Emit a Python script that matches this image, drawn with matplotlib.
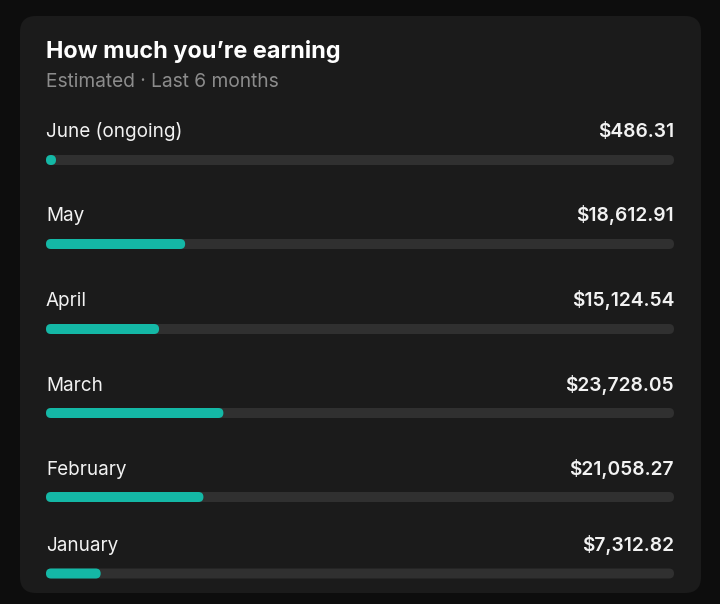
import matplotlib
matplotlib.use("Agg")
import matplotlib.pyplot as plt
from matplotlib.patches import FancyBboxPatch

# ---- data ----
months = ["June (ongoing)", "May", "April", "March", "February", "January"]
earnings = [486.31, 18612.91, 15124.54, 23728.05, 21058.27, 7312.82]
value_labels = ["$486.31", "$18,612.91", "$15,124.54", "$23,728.05", "$21,058.27", "$7,312.82"]
title = "How much you\u2019re earning"
subtitle = "Estimated \u00b7 Last 6 months"
scale_max = 84000  # value that fills the whole track

# ---- layout (pixels) ----
W, H = 720, 604
bar_centers = [160, 244, 329, 413, 497, 573.5]
label_baselines = [137, 221, 306, 391, 475, 551]
bar_h = 10
track_x0, track_x1 = 46, 674

BG = "#0d0d0d"
CARD = "#1b1b1b"
TRACK = "#303030"
TEAL = "#14b8a6"
WHITE = "#f2f2f2"
GREY = "#8c8c8c"
FONT = ["Inter", "DejaVu Sans"]

fig = plt.figure(figsize=(W / 100, H / 100), dpi=100, facecolor=BG)

# background axes in pixel coordinates
bg = fig.add_axes([0, 0, 1, 1])
bg.set_xlim(0, W)
bg.set_ylim(H, 0)
bg.axis("off")
bg.add_patch(FancyBboxPatch((20, 16), 681, 577, boxstyle="round,pad=0,rounding_size=16",
                            facecolor=CARD, edgecolor="none"))

bg.text(46, 58, title, fontsize=16.9, fontweight="bold", color="white",
        family=FONT, va="baseline", ha="left")
bg.text(46, 87, subtitle, fontsize=13.8, color=GREY, family=FONT,
        va="baseline", ha="left")

for m, vl, yb in zip(months, value_labels, label_baselines):
    bg.text(46, yb, m, fontsize=13.6, color=WHITE, family=FONT,
            va="baseline", ha="left")
    bg.text(674, yb, vl, fontsize=13.8, fontweight="semibold", color=WHITE,
            family=FONT, va="baseline", ha="right")

# bar axes: x in dollars, y in pixels
bx = fig.add_axes([track_x0 / W, 0, (track_x1 - track_x0) / W, 1])
bx.set_xlim(0, scale_max)
bx.set_ylim(H, 0)
bx.axis("off")
bx.patch.set_alpha(0)
dpp = scale_max / (track_x1 - track_x0)  # dollars per pixel

for v, yc in zip(earnings, bar_centers):
    # track
    bx.add_patch(FancyBboxPatch((0, yc - bar_h / 2), scale_max, bar_h,
                                boxstyle=f"round,pad=0,rounding_size={bar_h / 2 * dpp}",
                                mutation_aspect=1 / dpp,
                                facecolor=TRACK, edgecolor="none"))
    # fill
    w = max(v, bar_h * dpp)
    bx.add_patch(FancyBboxPatch((0, yc - bar_h / 2), w, bar_h,
                                boxstyle=f"round,pad=0,rounding_size={bar_h / 2 * dpp}",
                                mutation_aspect=1 / dpp,
                                facecolor=TEAL, edgecolor="none"))

fig.savefig("out.png", dpi=100, facecolor=BG)
